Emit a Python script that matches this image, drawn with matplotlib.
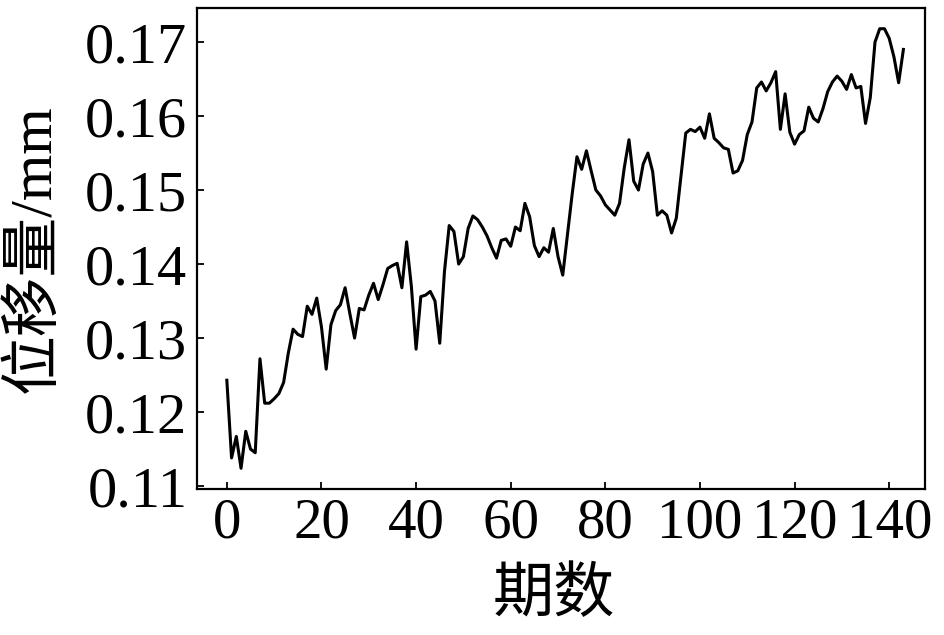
import numpy as np
import matplotlib.pyplot as plt

plt.rcParams['font.family'] = ['Liberation Serif', 'Noto Sans CJK SC']
plt.rcParams['axes.unicode_minus'] = False

# 期数 0..143 and displacement readings (mm)
period = np.arange(144)
disp = [
    0.1243, 0.1138, 0.1167, 0.1124, 0.1174, 0.1150, 0.1145, 0.1272, 0.1212, 0.1212,
    0.1218, 0.1225, 0.1240, 0.1280, 0.1312, 0.1305, 0.1302, 0.1343, 0.1332, 0.1354,
    0.1315, 0.1258, 0.1318, 0.1337, 0.1345, 0.1368, 0.1333, 0.1300, 0.1340, 0.1338,
    0.1358, 0.1374, 0.1352, 0.1372, 0.1394, 0.1398, 0.1401, 0.1368, 0.1430, 0.1370,
    0.1285, 0.1356, 0.1358, 0.1363, 0.1350, 0.1293, 0.1390, 0.1452, 0.1444, 0.1400,
    0.1410, 0.1448, 0.1465, 0.1460, 0.1450, 0.1438, 0.1422, 0.1408, 0.1432, 0.1434,
    0.1424, 0.1450, 0.1445, 0.1482, 0.1464, 0.1425, 0.1410, 0.1422, 0.1416, 0.1448,
    0.1410, 0.1385, 0.1440, 0.1495, 0.1545, 0.1528, 0.1553, 0.1526, 0.1500, 0.1492,
    0.1480, 0.1473, 0.1466, 0.1482, 0.1530, 0.1568, 0.1512, 0.1500, 0.1535, 0.1550,
    0.1525, 0.1466, 0.1472, 0.1466, 0.1442, 0.1462, 0.1520, 0.1577, 0.1582, 0.1579,
    0.1585, 0.1570, 0.1603, 0.1570, 0.1564, 0.1557, 0.1555, 0.1523, 0.1526, 0.1540,
    0.1575, 0.1592, 0.1638, 0.1646, 0.1634, 0.1645, 0.1660, 0.1582, 0.1630, 0.1578,
    0.1562, 0.1575, 0.1580, 0.1612, 0.1597, 0.1592, 0.1610, 0.1633, 0.1646, 0.1654,
    0.1647, 0.1636, 0.1656, 0.1638, 0.1640, 0.1590, 0.1625, 0.1700, 0.1718, 0.1718,
    0.1705, 0.1680, 0.1645, 0.1690,
]

xticks = [0, 20, 40, 60, 80, 100, 120, 140]
yticks = [0.11, 0.12, 0.13, 0.14, 0.15, 0.16, 0.17]

fig = plt.figure(figsize=(9.45, 6.35), dpi=100)
ax = fig.add_axes([0.2085, 0.2299, 0.7705, 0.7575])
ax.plot(period, disp, color='black', linewidth=2.2)

ax.set_xlim(-6.3, 147.6)
ax.set_ylim(0.1096, 0.1746)
ax.set_xticks(xticks)
ax.set_yticks(yticks)
ax.set_yticklabels(['%.2f' % v for v in yticks])

ax.tick_params(axis='both', direction='in', length=5, width=1.3,
               top=False, right=False)
ax.tick_params(axis='x', pad=6, labelsize=41)
ax.tick_params(axis='y', pad=7, labelsize=42)
for s in ax.spines.values():
    s.set_linewidth(1.6)

ax.set_xlabel('期数', fontsize=44)
ax.set_ylabel('位移量/mm', fontsize=43)
ax.xaxis.set_label_coords(0.49, -0.165)
ax.yaxis.set_label_coords(-0.184, 0.5)

fig.savefig('out.png', dpi=100)
